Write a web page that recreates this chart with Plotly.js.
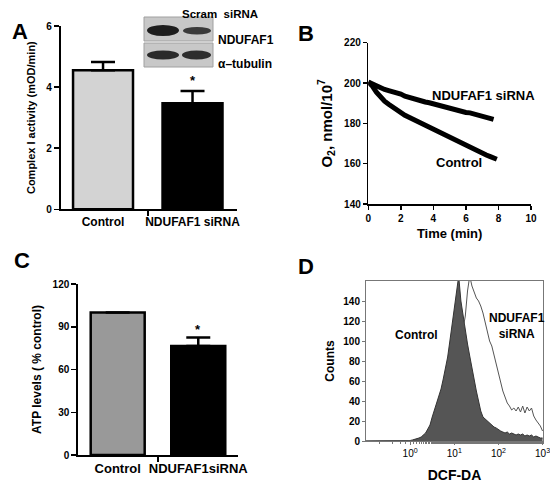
<!DOCTYPE html>
<html><head><meta charset="utf-8">
<script src="https://cdn.plot.ly/plotly-3.0.1.min.js"></script>
<style>body{margin:0;background:#fff}#c{width:550px;height:483px}</style>
</head><body><div id="c"></div>
<script>
// Panel A: Complex I activity
const aCats = ['Control', 'NDUFAF1 siRNA'];
const aVals = [4.55, 3.47];
const aErr = [0.27, 0.40];
// Panel B: O2 consumption
const bTime = [0,0.25,0.5,0.75,1,1.25,1.5,1.75,2,2.25,2.5,2.75,3,3.25,3.5,3.75,4,4.25,4.5,4.75,5,5.25,5.5,5.75,6,6.25,6.5,6.75,7,7.25,7.5,7.75,7.9];
const bControl = [200.5,198.5,195.5,193,191,189.5,188,186.5,185.3,184,183,182,181,180,179,177.8,176.8,176,175,174,173,172,171,170,168.8,168,167,166,165.2,164.3,163.5,162.7,162.2];
const bTimeSi = [0,0.25,0.5,0.75,1,1.25,1.5,1.75,2,2.25,2.5,2.75,3,3.25,3.5,3.75,4,4.25,4.5,4.75,5,5.25,5.5,5.75,6,6.25,6.5,6.75,7,7.25,7.5,7.7];
const bSiRNA = [200.5,199.5,198.5,197.5,196.8,196.2,195.8,195.3,194.5,193.5,192.8,192.3,191.8,191.2,190.6,190.2,189.6,189,188.5,188,187.4,187,186.4,185.8,185.4,185.2,184.6,183.8,183.2,182.6,182.2,182];
// Panel C: ATP levels
const cCats = ['Control', 'NDUFAF1siRNA'];
const cVals = [100, 76.5];
const cErr = [0, 6];
// Panel D: DCF-DA histogram (log10 fluorescence bins)
const dLogBins = [-1,-0.5,0,0.05,0.1,0.15,0.2,0.25,0.3,0.35,0.4,0.45,0.5,0.55,0.6,0.65,0.7,0.75,0.8,0.85,0.9,0.95,1,1.05,1.1,1.15,1.2,1.25,1.3,1.35,1.4,1.45,1.5,1.55,1.6,1.65,1.7,1.75,1.8,1.85,1.9,1.95,2,2.05,2.1,2.15,2.2,2.25,2.3,2.35,2.4,2.45,2.5,2.55,2.6,2.65,2.7,2.75,2.8,2.85,2.9,2.95,3];
const dControl = [0,0,0.5,1,1.5,2.5,3,4,6,8,12,16,24,31,36,44,52,62,72,84,100,118,132,150,165,140,124,112,97,85,72,60,50,40,30,24,22,19,17,16,14,13,11,10,9,8,9,7,8,7,6,7,6,7,5,6,5,6,4,5,4,3,3];
const dSiRNA = [0,0,0,0,0,0,0,0.5,1,2,4,6,8,10,14,18,23,28,34,40,48,55,63,74,86,98,112,125,150,165,155,148,143,140,135,128,118,110,100,95,86,76,67,58,50,44,38,35,31,33,30,34,29,35,28,34,30,33,25,21,18,15,10];
const dTickVals = [1, 10, 100, 1000];
const dTickText = ['10<sup>0</sup>', '10<sup>1</sup>', '10<sup>2</sup>', '10<sup>3</sup>'];

const F = 'Liberation Sans, Arial, sans-serif';
const bf = (s) => ({family: F, size: s, color: '#000', weight: 'bold'});
const W = 550, H = 483;
const px = (x) => x / W, py = (y) => 1 - y / H;

const traces = [
  {type: 'bar', x: [0, 1], y: aVals, width: 0.67, xaxis: 'x', yaxis: 'y',
   marker: {color: ['#d3d3d3', '#000'], line: {color: '#000', width: 2.5}},
   error_y: {type: 'data', symmetric: false, array: aErr, arrayminus: [0, 0], color: '#000', thickness: 2.5, width: 12},
   hoverinfo: 'skip'},
  {type: 'scatter', mode: 'lines', x: bTime, y: bControl, xaxis: 'x2', yaxis: 'y2',
   line: {color: '#000', width: 5}},
  {type: 'scatter', mode: 'lines', x: bTimeSi, y: bSiRNA, xaxis: 'x2', yaxis: 'y2',
   line: {color: '#000', width: 5}},
  {type: 'bar', x: [0, 1], y: cVals, width: 0.67, xaxis: 'x3', yaxis: 'y3',
   marker: {color: ['#999999', '#000'], line: {color: '#000', width: 2.5}},
   error_y: {type: 'data', symmetric: false, array: cErr, arrayminus: [0, 0], color: '#000', thickness: 2.5, width: 12, visible: true}},
  {type: 'scatter', mode: 'lines', x: dLogBins.map(e => Math.pow(10, e)), y: dControl, xaxis: 'x4', yaxis: 'y4',
   fill: 'tozeroy', fillcolor: '#555555', line: {color: '#333', width: 1}},
  {type: 'scatter', mode: 'lines', x: dLogBins.map(e => Math.pow(10, e)), y: dSiRNA, xaxis: 'x4', yaxis: 'y4',
   line: {color: '#555', width: 1}}
];

const ax = {showline: true, linecolor: '#000', zeroline: false, showgrid: false, ticks: 'outside', tickcolor: '#000'};

const layout = {
  width: W, height: H, margin: {l: 0, r: 0, t: 0, b: 0},
  paper_bgcolor: '#fff', plot_bgcolor: 'rgba(0,0,0,0)', showlegend: false,
  font: {family: F},
  xaxis: Object.assign({}, ax, {domain: [px(60.7), px(237)], range: [-0.473, 1.497], anchor: 'y',
    tickvals: [0, 1], ticktext: aCats, ticks: '', linewidth: 2, tickfont: bf(12),
    minor: {tickvals: [0.5], ticks: 'outside', ticklen: 5, tickwidth: 1.5, tickcolor: '#000'}}),
  yaxis: Object.assign({}, ax, {domain: [py(209.3), py(26)], range: [0, 6], anchor: 'x',
    tickvals: [0, 2, 4, 6], ticklen: 5, linewidth: 2, tickwidth: 1.5, tickfont: bf(10),
    title: {text: 'Complex I activity (mOD/min)', font: bf(11), standoff: 8}}),
  xaxis2: Object.assign({}, ax, {domain: [px(368.3), px(531)], range: [0, 10], anchor: 'y2',
    tickvals: [0, 2, 4, 6, 8, 10], ticklen: 4, linewidth: 1.5, tickwidth: 1.5, tickfont: bf(10),
    title: {text: 'Time (min)', font: bf(13), standoff: 6}}),
  yaxis2: Object.assign({}, ax, {domain: [py(204), py(42.7)], range: [140, 220], anchor: 'x2',
    tickvals: [140, 160, 180, 200, 220], ticklen: 4, linewidth: 1.5, tickwidth: 1.5, tickfont: bf(10),
    title: {text: 'O<sub>2</sub>, nmol/10<sup>7</sup>', font: bf(15), standoff: 8}}),
  xaxis3: Object.assign({}, ax, {domain: [px(78.3), px(238)], range: [-0.489, 1.493], anchor: 'y3',
    tickvals: [0, 1], ticktext: cCats, ticks: '', linewidth: 2, tickfont: bf(13),
    minor: {tickvals: [0.5], ticks: 'outside', ticklen: 5, tickwidth: 1.5, tickcolor: '#000'}}),
  yaxis3: Object.assign({}, ax, {domain: [py(455), py(284)], range: [0, 120], anchor: 'x3',
    tickvals: [0, 30, 60, 90, 120], ticklen: 5, linewidth: 2, tickwidth: 1.5, tickfont: bf(10),
    title: {text: 'ATP levels ( % control)', font: bf(12), standoff: 8}}),
  xaxis4: Object.assign({}, ax, {type: 'log', domain: [px(366), px(543)], range: [-1, 3.01], anchor: 'y4',
    tickvals: dTickVals, ticktext: dTickText, ticklen: 3, linecolor: '#777', tickcolor: '#777', mirror: true,
    linewidth: 1, tickfont: {family: F, size: 10, color: '#000'}, ticklabeloverflow: 'allow',
    minor: {ticks: 'outside', ticklen: 2, tickcolor: '#777'},
    title: {text: 'DCF-DA', font: bf(14), standoff: 18}}),
  yaxis4: Object.assign({}, ax, {domain: [py(441), py(281)], range: [0, 160], anchor: 'x4',
    tickvals: [0, 20, 40, 60, 80, 100, 120, 140], ticklen: 3, linecolor: '#777', tickcolor: '#777', mirror: true,
    linewidth: 1, tickfont: bf(10),
    title: {text: 'Counts', font: bf(12), standoff: 6}}),
  shapes: [
    // western blot inset (decoration)
    {type: 'rect', xref: 'paper', yref: 'paper', x0: px(144), x1: px(213), y0: py(41), y1: py(17), fillcolor: '#c8c8c8', line: {color: '#a0a0a0', width: 1}},
    {type: 'rect', xref: 'paper', yref: 'paper', x0: px(144), x1: px(213), y0: py(67), y1: py(43), fillcolor: '#c8c8c8', line: {color: '#a0a0a0', width: 1}},
    {type: 'circle', xref: 'paper', yref: 'paper', x0: px(147), x1: px(179), y0: py(36), y1: py(25), fillcolor: '#1e1e1e', line: {width: 0}},
    {type: 'circle', xref: 'paper', yref: 'paper', x0: px(183), x1: px(211), y0: py(34.5), y1: py(27), fillcolor: '#3a3a3a', line: {width: 0}},
    {type: 'circle', xref: 'paper', yref: 'paper', x0: px(147), x1: px(179), y0: py(59.5), y1: py(50.5), fillcolor: '#2a2a2a', line: {width: 0}},
    {type: 'circle', xref: 'paper', yref: 'paper', x0: px(182), x1: px(211), y0: py(59.5), y1: py(50.5), fillcolor: '#2e2e2e', line: {width: 0}}
  ],
  annotations: [
    {xref: 'paper', yref: 'paper', x: px(10), y: py(17), text: 'A', showarrow: false, font: bf(22)},
    {xref: 'paper', yref: 'paper', x: px(306), y: py(19), text: 'B', showarrow: false, font: bf(22)},
    {xref: 'paper', yref: 'paper', x: px(12), y: py(260), text: 'C', showarrow: false, font: bf(22)},
    {xref: 'paper', yref: 'paper', x: px(306), y: py(266), text: 'D', showarrow: false, font: bf(22)},
    {xref: 'paper', yref: 'paper', x: px(180), y: py(6), text: 'Scram  siRNA', showarrow: false, font: bf(11.5)},
    {xref: 'paper', yref: 'paper', x: px(216), y: py(30.5), text: 'NDUFAF1', showarrow: false, xanchor: 'left', font: bf(12)},
    {xref: 'paper', yref: 'paper', x: px(216), y: py(55), text: 'α–tubulin', showarrow: false, xanchor: 'left', font: bf(12)},
    {xref: 'x', yref: 'y', x: 1, y: 4.2, text: '*', showarrow: false, font: bf(13)},
    {xref: 'x2', yref: 'y2', x: 7.11, y: 193.9, text: 'NDUFAF1 siRNA', showarrow: false, font: bf(13)},
    {xref: 'x2', yref: 'y2', x: 5.58, y: 160.5, text: 'Control', showarrow: false, font: bf(13)},
    {xref: 'x3', yref: 'y3', x: 1, y: 88, text: '*', showarrow: false, font: bf(13)},
    {xref: 'x4', yref: 'y4', x: 0.136, y: 106, text: 'Control', showarrow: false, font: bf(12)},
    {xref: 'x4', yref: 'y4', x: 2.41, y: 115, text: 'NDUFAF1<br>siRNA', showarrow: false, font: bf(12)}
  ]
};
Plotly.newPlot('c', traces, layout, {staticPlot: true, displayModeBar: false});
</script></body></html>
